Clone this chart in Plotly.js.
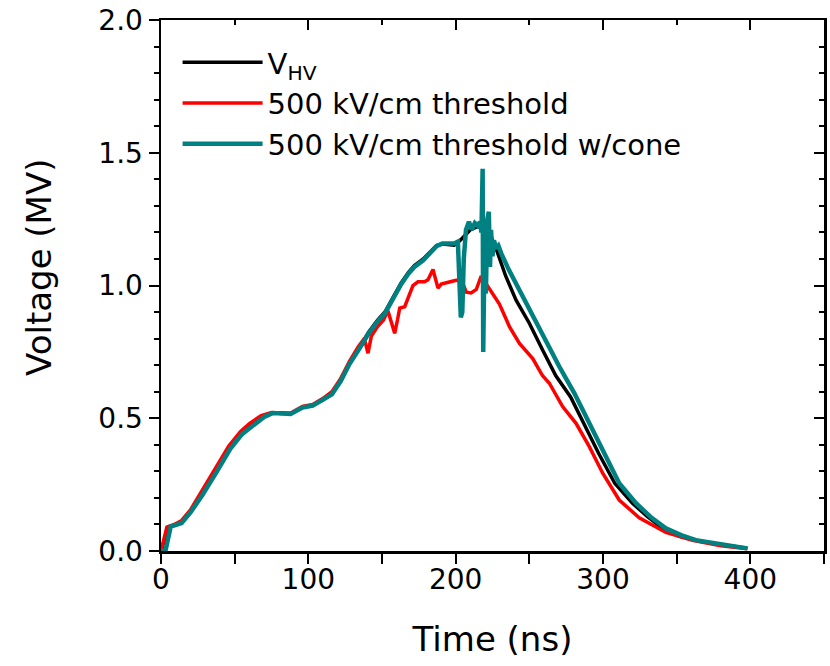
<!DOCTYPE html>
<html>
<head>
<meta charset="utf-8">
<script src="https://cdn.plot.ly/plotly-3.0.1.min.js"></script>
<style>html,body{margin:0;padding:0;background:#fff;}#chart{width:830px;height:666px;}</style>
</head>
<body>
<div id="chart"></div>
<script>
// V_HV (black)
const tHV = [0, 5, 10, 14, 20, 28, 38, 47, 55, 62, 70, 76, 82, 88, 96, 103, 110, 116, 122, 128, 135, 141, 147, 152, 158, 163, 168, 172, 178, 183, 187, 191, 195, 199, 203, 207, 210, 214, 218, 221, 224, 228, 234, 241, 250, 259, 268, 278, 288, 297, 308, 320, 330, 342, 352, 365, 383, 398];
const vHV = [0, 0.09, 0.10, 0.11, 0.15, 0.215, 0.305, 0.39, 0.44, 0.475, 0.505, 0.52, 0.52, 0.518, 0.54, 0.55, 0.57, 0.595, 0.645, 0.71, 0.77, 0.825, 0.87, 0.90, 0.96, 1.01, 1.05, 1.075, 1.10, 1.13, 1.15, 1.156, 1.155, 1.152, 1.17, 1.195, 1.21, 1.22, 1.225, 1.215, 1.185, 1.13, 1.035, 0.945, 0.858, 0.757, 0.66, 0.58, 0.468, 0.368, 0.255, 0.18, 0.13, 0.079, 0.055, 0.038, 0.022, 0.01];

// 500 kV/cm threshold (red)
const tTh = [0, 4, 9, 14, 20, 27, 37, 46, 54, 60, 68, 75, 82, 88, 96, 103, 110, 116, 122, 128, 134, 138, 140.5, 142.8, 147, 151, 154, 156.5, 158.6, 160.5, 162, 165.4, 168, 171, 174.4, 178.9, 181.2, 184.6, 188, 190.2, 195, 200.4, 204, 207.2, 210.5, 214, 217.3, 219.6, 223, 229.7, 236.5, 243.3, 252.3, 259, 263.6, 272.6, 281.7, 290.7, 299.8, 311, 324.6, 342.7, 360.7, 380, 398];
const vTh = [0, 0.09, 0.10, 0.115, 0.155, 0.22, 0.31, 0.395, 0.45, 0.48, 0.51, 0.522, 0.518, 0.52, 0.545, 0.552, 0.575, 0.60, 0.65, 0.715, 0.77, 0.80, 0.745, 0.81, 0.845, 0.87, 0.905, 0.86, 0.82, 0.87, 0.915, 0.92, 0.96, 1.0, 1.014, 1.014, 1.022, 1.06, 0.99, 1.005, 1.012, 1.02, 1.02, 0.975, 0.972, 0.985, 1.035, 1.015, 0.985, 0.93, 0.845, 0.782, 0.725, 0.66, 0.632, 0.544, 0.481, 0.393, 0.293, 0.192, 0.125, 0.07, 0.04, 0.02, 0.008];

// 500 kV/cm threshold w/cone (teal)
const tCone = [0, 3, 6.6, 10, 14, 20, 28, 38, 47, 55, 62, 70, 76, 82, 88, 96, 103, 110, 116, 122, 128, 135, 141, 147, 152, 158, 163, 168, 172, 178, 183, 187, 191, 195, 199, 201.5, 202.5, 203.5, 204.5, 205.5, 207, 209, 211, 213, 215, 216.5, 217.5, 218.3, 218.7, 219.3, 220.5, 221.5, 222.5, 223.3, 224, 225, 226, 227.5, 229, 231, 236, 243, 250, 256.8, 263, 270.4, 280.6, 289.6, 299.8, 311, 322.4, 333, 342.7, 353, 363, 383, 398];
const vCone = [0, 0, 0.092, 0.10, 0.105, 0.145, 0.21, 0.30, 0.385, 0.44, 0.472, 0.505, 0.52, 0.52, 0.516, 0.54, 0.548, 0.57, 0.59, 0.64, 0.705, 0.765, 0.82, 0.865, 0.895, 0.955, 1.005, 1.045, 1.07, 1.095, 1.125, 1.148, 1.158, 1.158, 1.158, 1.165, 1.0, 0.88, 0.90, 1.1, 1.21, 1.24, 1.21, 1.235, 1.225, 1.24, 1.20, 1.44, 0.75, 1.0, 0.97, 1.25, 1.278, 1.07, 1.21, 1.11, 1.17, 1.14, 1.15, 1.12, 1.06, 0.985, 0.91, 0.845, 0.775, 0.694, 0.594, 0.493, 0.38, 0.255, 0.18, 0.125, 0.085, 0.06, 0.041, 0.023, 0.01];

const names = ['V<sub>HV</sub>', '500 kV/cm threshold', '500 kV/cm threshold w/cone'];
const xTickVals = [0, 100, 200, 300, 400];
const yTickVals = [0, 0.5, 1.0, 1.5, 2.0];
const xTitle = 'Time (ns)';
const yTitle = 'Voltage (MV)';

const FONT = 'DejaVu Sans, Verdana, sans-serif';

const traces = [
  {x: tHV, y: vHV, name: names[0], mode: 'lines', line: {color: '#000000', width: 3.5}},
  {x: tTh, y: vTh, name: names[1], mode: 'lines', line: {color: '#ff0000', width: 3.5}},
  {x: tCone, y: vCone, name: names[2], mode: 'lines', line: {color: '#008080', width: 4.5}},
  {x: [0], y: [0], xaxis: 'x2', yaxis: 'y2', mode: 'markers', marker: {opacity: 0}, showlegend: false, hoverinfo: 'skip'}
];

const common = {showgrid: false, zeroline: false, showline: true, linecolor: '#000', linewidth: 2.5,
  tickcolor: '#000', tickwidth: 2, ticklen: 10};

const layout = {
  width: 830, height: 666,
  margin: {l: 161, r: 6, t: 20, b: 115},
  paper_bgcolor: '#fff', plot_bgcolor: '#fff',
  font: {family: FONT, size: 28, color: '#000'},
  showlegend: true,
  legend: {x: 0.025, y: 0.968, xanchor: 'left', yanchor: 'top', bgcolor: 'rgba(0,0,0,0)',
    font: {family: FONT, size: 29, color: '#000'}, itemwidth: 80, tracegroupgap: 0},
  xaxis: Object.assign({}, common, {range: [0, 450], tickmode: 'array', tickvals: xTickVals,
    ticks: 'outside', ticklabelstandoff: -8,
    minor: {dtick: 50, ticks: 'outside', ticklen: 10, tickwidth: 2, tickcolor: '#000'},
    tickfont: {family: FONT, size: 28},
    title: {text: xTitle, font: {family: FONT, size: 34}, standoff: 32}}),
  yaxis: Object.assign({}, common, {range: [0, 2.0], tickmode: 'array', tickvals: yTickVals,
    ticktext: yTickVals.map(v => v.toFixed(1)),
    ticks: 'outside', minor: {dtick: 0.1, ticks: 'outside', ticklen: 5, tickwidth: 2, tickcolor: '#000'},
    tickfont: {family: FONT, size: 28}}),
  xaxis2: Object.assign({}, common, {range: [0, 450], overlaying: 'x', side: 'top', tickmode: 'array',
    tickvals: xTickVals, ticks: 'inside', showticklabels: false,
    minor: {dtick: 50, ticks: 'inside', ticklen: 5, tickwidth: 2, tickcolor: '#000'}}),
  yaxis2: Object.assign({}, common, {range: [0, 2.0], overlaying: 'y', side: 'right', tickmode: 'array',
    tickvals: yTickVals, ticks: 'inside', showticklabels: false,
    minor: {dtick: 0.1, ticks: 'inside', ticklen: 5, tickwidth: 2, tickcolor: '#000'}}),
  annotations: [
    {text: yTitle, textangle: -90, xref: 'paper', yref: 'paper', x: -0.184, y: 0.533,
     xanchor: 'center', yanchor: 'middle', showarrow: false, font: {family: FONT, size: 34, color: '#000'}}
  ]
};

Plotly.newPlot('chart', traces, layout, {staticPlot: true, displayModeBar: false});
</script>
</body>
</html>
